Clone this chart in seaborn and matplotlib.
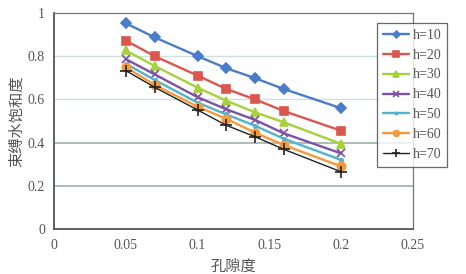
import pandas as pd
import seaborn as sns
import matplotlib.pyplot as plt

# values
porosity = [0.05, 0.07, 0.1, 0.12, 0.14, 0.16, 0.2]
h10 = [0.952, 0.887, 0.800, 0.744, 0.698, 0.648, 0.559]
h20 = [0.872, 0.800, 0.710, 0.648, 0.600, 0.546, 0.455]
h30 = [0.826, 0.755, 0.654, 0.594, 0.540, 0.494, 0.394]
h40 = [0.786, 0.716, 0.610, 0.554, 0.505, 0.443, 0.350]
h50 = [0.765, 0.690, 0.585, 0.530, 0.478, 0.418, 0.320]
h60 = [0.749, 0.667, 0.566, 0.510, 0.446, 0.389, 0.290]
h70 = [0.733, 0.656, 0.551, 0.480, 0.427, 0.369, 0.265]
labels = ['h=10', 'h=20', 'h=30', 'h=40', 'h=50', 'h=60', 'h=70']

series = [h10, h20, h30, h40, h50, h60, h70]
df = pd.concat([pd.DataFrame({'x': porosity, 'y': s, 'h': lab})
                for lab, s in zip(labels, series)], ignore_index=True)

colors = ['#4a7cc9', '#dc5650', '#a6d13a', '#7c52a8', '#4fb3cf', '#f59a3c', '#222222']
markers = ['D', 's', '^', 'x', '.', 'o', '+']
sizes = [5, 6, 6, 6, 5, 6, 8]
widths = [1.7, 1.7, 1.7, 1.7, 1.7, 1.7, 1.0]

sns.set_style('white')
plt.rcParams['font.family'] = ['Liberation Serif', 'Noto Sans CJK SC']

fig = plt.figure(figsize=(4.66, 2.74), dpi=100)
ax = fig.add_axes([0.116, 0.164, 0.77, 0.789])

# one call per series: seaborn won't mix filled and line-art markers in one style map
for lab, c, m, ms, lw in zip(labels, colors, markers, sizes, widths):
    sns.lineplot(data=df[df['h'] == lab], x='x', y='y', color=c, marker=m,
                 markersize=ms, markeredgecolor=c, markeredgewidth=1.2,
                 lw=lw, ax=ax, label=lab, legend=False)

ax.axhline(0.2, color='#9fb2aa', lw=1.2, zorder=0)
ax.axhline(0.4, color='#9fb2aa', lw=1.2, zorder=0)
ax.axhline(0.6, color='#cfe0e0', lw=1, zorder=0)
ax.axhline(0.8, color='#cfe0e0', lw=1, zorder=0)

ax.set_xlim(0, 0.25)
ax.set_ylim(0, 1)
ax.set_xticks([0, 0.05, 0.1, 0.15, 0.2, 0.25])
ax.set_xticklabels(['0', '0.05', '0.1', '0.15', '0.2', '0.25'])
ax.set_yticks([0, 0.2, 0.4, 0.6, 0.8, 1])
ax.set_yticklabels(['0', '0.2', '0.4', '0.6', '0.8', '1'])
ax.tick_params(axis='both', direction='out', length=4, width=1, color='#555555',
               labelsize=10, labelcolor='#555555')
ax.tick_params(axis='y', direction='inout', length=6)
for side in ['left', 'bottom']:
    ax.spines[side].set_color('#555555')
    ax.spines[side].set_linewidth(1.3)
for side in ['top', 'right']:
    ax.spines[side].set_color('#777777')
    ax.spines[side].set_linewidth(0.9)

ax.set_xlabel('孔隙度', fontsize=11, color='#555555', family=['Noto Sans CJK SC'])
ax.set_ylabel('束缚水饱和度', fontsize=11, color='#555555', family=['Noto Sans CJK SC'],
              labelpad=2)

handles = [l for l in ax.lines if l.get_label() in labels]
leg = fig.legend(handles, labels, loc='upper left', bbox_to_anchor=(0.809, 0.916),
                 borderaxespad=0, fontsize=10, frameon=True, fancybox=False,
                 edgecolor='#444444', handlelength=1.9, handletextpad=0.3,
                 labelspacing=0.5, borderpad=0.4, labelcolor='#555555', markerscale=0.7)
leg.get_frame().set_linewidth(0.9)

fig.savefig('out.png', dpi=100)
